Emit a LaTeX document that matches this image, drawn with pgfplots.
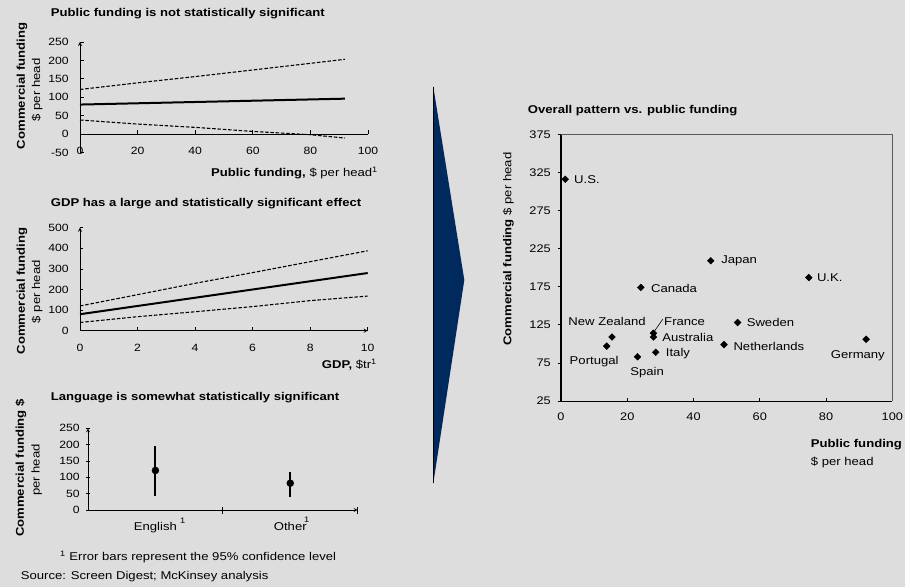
\documentclass[border=0pt]{standalone}
\usepackage{pgfplots}
\pgfplotsset{compat=1.18}
\usepackage{fontspec}
\setmainfont{Liberation Sans}[FakeStretch=1.16]
\definecolor{bg}{RGB}{221,221,221}
\definecolor{navy}{RGB}{0,42,94}
\newcommand\ft{\fontsize{11.3}{13.5}\selectfont}
\newcommand\tk{\fontsize{10.5}{12}\selectfont}
\newcommand\tkr{\fontsize{11}{13}\selectfont}
\pgfplotsset{
  every axis/.append style={
    scale only axis, anchor=south west,
    /pgf/number format/assume math mode=true,
    tick label style={font=\tk},
    axis line style={-, line width=0.8pt},
    major tick length=3.5pt,
    tick style={black, line width=0.8pt},
  },
  band/.style={black, line width=1.1pt, dash pattern=on 3.5pt off 1.8pt},
}
\begin{document}
\begin{tikzpicture}[x=1pt,y=1pt]
\fill[bg] (0,0) rectangle (905,587);
\useasboundingbox (0,0) rectangle (905,587);

% ---------- Panel 1 ----------
\node[anchor=west, font=\ft\bfseries, inner sep=0pt] at (50.7,573) {Public funding is not statistically significant};
\begin{axis}[at={(80pt,434.6pt)}, width=288pt, height=110.4pt,
  xmin=0, xmax=100, ymin=-50, ymax=250,
  axis x line=bottom, axis y line=left, x axis line style={draw=none},
  xtick={0,20,...,100}, ytick={-50,0,50,...,250},
  xtick style={draw=none}, tick align=inside,
  xticklabel style={yshift=9pt}, yticklabel style={xshift=-7.7pt},
  clip=false]
\addplot[black, line width=2pt] coordinates {(0,80) (92,96)};
\addplot[band] coordinates {(0,121) (20,139) (40,156) (60,174) (80,192) (92,203)};
\addplot[band] coordinates {(0,38) (20,27) (40,18) (60,7) (80,-2) (92,-11)};
\draw[black, line width=0.8pt] (axis cs:0,0) -- (axis cs:100,0);
\pgfplotsinvokeforeach{20,40,60,80,100}{\draw[black,line width=0.8pt] (axis cs:#1,0) -- ++(0pt,3.5pt);}
\end{axis}
\node[rotate=90, font=\ft\bfseries, inner sep=0pt] at (22,501.3) {Commercial funding};
\node[rotate=90, font=\ft, inner sep=0pt] at (37,497) {\$ per head};
\node[anchor=east, font=\ft, inner sep=0pt] at (378,414.3) {\textbf{Public funding,} \$ per head\textsuperscript{1}};

% ---------- Panel 2 ----------
\node[anchor=west, font=\ft\bfseries, inner sep=0pt] at (50.7,383) {GDP has a large and statistically significant effect};
\begin{axis}[at={(80pt,256.3pt)}, width=287.7pt, height=103pt,
  xmin=0, xmax=10, ymin=0, ymax=500,
  axis lines=left,
  xtick={0,2,...,10}, ytick={0,100,...,500}, tick align=inside,
  xticklabel style={yshift=-10pt}, yticklabel style={xshift=-7.7pt},
  clip=false]
\addplot[black, line width=2pt] coordinates {(0,80) (10,280)};
\addplot[band] coordinates {(0,120) (2,175) (4,230) (6,282) (8,335) (10,388)};
\addplot[band] coordinates {(0,40) (2,68) (4,92) (6,117) (8,146) (10,168)};
\end{axis}
\node[rotate=90, font=\ft\bfseries, inner sep=0pt] at (22,296.2) {Commercial funding};
\node[rotate=90, font=\ft, inner sep=0pt] at (37,295.3) {\$ per head};
\node[anchor=east, font=\ft, inner sep=0pt] at (377,222) {\textbf{GDP,} \$tr\textsuperscript{1}};

% ---------- Panel 3 ----------
\node[anchor=west, font=\ft\bfseries, inner sep=0pt] at (50.7,189.7) {Language is somewhat statistically significant};
\begin{axis}[at={(88pt,77pt)}, width=269.7pt, height=81.7pt,
  xmin=0, xmax=2, ymin=0, ymax=250,
  axis lines=left,
  xtick={0.5,1.5}, xticklabels={English,Other}, ytick={0,50,...,250},
  tick align=center, xtick style={draw=none},
  xticklabel style={font=\ft, yshift=-7pt}, yticklabel style={xshift=-3pt},
  clip=false]
\addplot[black, only marks, mark=*, mark size=3.5pt,
  error bars/.cd, y dir=both, y explicit, error mark=none,
  error bar style={line width=2pt}]
  coordinates {(0.5,121) += (0,76) -= (0,77) (1.5,82) += (0,35) -= (0,43)};
\pgfplotsinvokeforeach{1,2}{\draw[black,line width=0.8pt] (axis cs:#1,0) ++(0pt,-3.5pt) -- ++(0pt,7pt);}
\end{axis}
\node[font=\fontsize{8}{9}\selectfont, inner sep=0pt] at (182.7,66.3) {1};
\node[font=\fontsize{8}{9}\selectfont, inner sep=0pt] at (306.7,67) {1};
\node[rotate=90, font=\ft\bfseries, inner sep=0pt] at (21,119) {Commercial funding \$};
\node[rotate=90, font=\ft, inner sep=0pt] at (36.7,117) {per head};
\node[anchor=west, font=\ft, inner sep=0pt] at (60,30.3) {\textsuperscript{1} Error bars represent the 95\% confidence level};
\node[anchor=west, font=\ft, inner sep=0pt] at (20.7,10.3) {Source: Screen Digest; McKinsey analysis};

% ---------- Arrow ----------
\fill[navy] (433.3,500.3) -- (464.3,307) -- (433.3,103.7) -- cycle;
\draw[black, line width=0.8pt] (433.3,500.3) -- (433.3,103.7);

% ---------- Right panel ----------
\node[anchor=west, font=\ft\bfseries, inner sep=0pt] at (527.7,476.3) {Overall pattern vs. public funding};
\begin{axis}[at={(561pt,186pt)}, width=331.3pt, height=266.7pt,
  xmin=0, xmax=100, ymin=25, ymax=375,
  axis line style={draw=none},
  xtick={0,20,...,100}, ytick={25,75,...,375},
  tick pos=left, tick align=inside,
  ytick style={xshift=-3.5pt},
  tick label style={font=\tkr},
  xticklabel style={yshift=-8pt}, yticklabel style={xshift=-6.7pt},
  clip=false]
\addplot[black, only marks, mark=square*, mark size=2.4pt, mark options={rotate=45}] coordinates {
  (1.3,316) (45.2,209) (74.8,187) (24.1,174) (53.3,128) (15.4,109) (13.8,97)
  (27.9,114) (27.9,109) (28.6,89) (23.1,83) (49.2,99) (92.1,106)};
\draw[black, line width=1.8pt] (rel axis cs:0,0) -- (rel axis cs:0,1);
\draw[black!65, line width=0.8pt] (rel axis cs:0,1) -- (rel axis cs:1,1) -- (rel axis cs:1,0);
\draw[black, line width=0.8pt] (rel axis cs:0,0) -- (rel axis cs:1,0);
\begin{scope}[every node/.style={font=\ft, inner sep=0pt}]
\node[anchor=west, xshift=8.7pt] at (axis cs:1.3,316) {U.S.};
\node[anchor=west, xshift=10.3pt] at (axis cs:45.2,209) {Japan};
\node[anchor=west, xshift=8pt] at (axis cs:74.8,187) {U.K.};
\node[anchor=west, xshift=10pt, yshift=-1.3pt] at (axis cs:24.1,174) {Canada};
\node[anchor=west, xshift=9pt] at (axis cs:53.3,128) {Sweden};
\node[anchor=west, xshift=8.7pt] at (axis cs:27.9,109) {Australia};
\node[anchor=west, xshift=10pt, yshift=-1.7pt] at (axis cs:28.6,89) {Italy};
\node[anchor=west, xshift=9.3pt, yshift=-2.3pt] at (axis cs:49.2,99) {Netherlands};
\node at (axis cs:89.6,84.4) {Germany};
\node at (axis cs:26.0,62.7) {Spain};
\node at (axis cs:10.0,77.1) {Portugal};
\node at (axis cs:13.9,129.1) {New Zealand};
\node[anchor=west] at (axis cs:31.1,129.1) {France};
\end{scope}
\draw[black, line width=0.6pt] (axis cs:28.1,116) -- (axis cs:30.7,132.2);
\end{axis}
\node[rotate=90, font=\ft, inner sep=0pt] at (508.3,337.8) {\textbf{Commercial funding} \$ per head};
\node[anchor=west, font=\ft\bfseries, inner sep=0pt] at (810.7,142.7) {Public funding};
\node[anchor=west, font=\ft, inner sep=0pt] at (810.7,124.7) {\$ per head};
\end{tikzpicture}
\end{document}
